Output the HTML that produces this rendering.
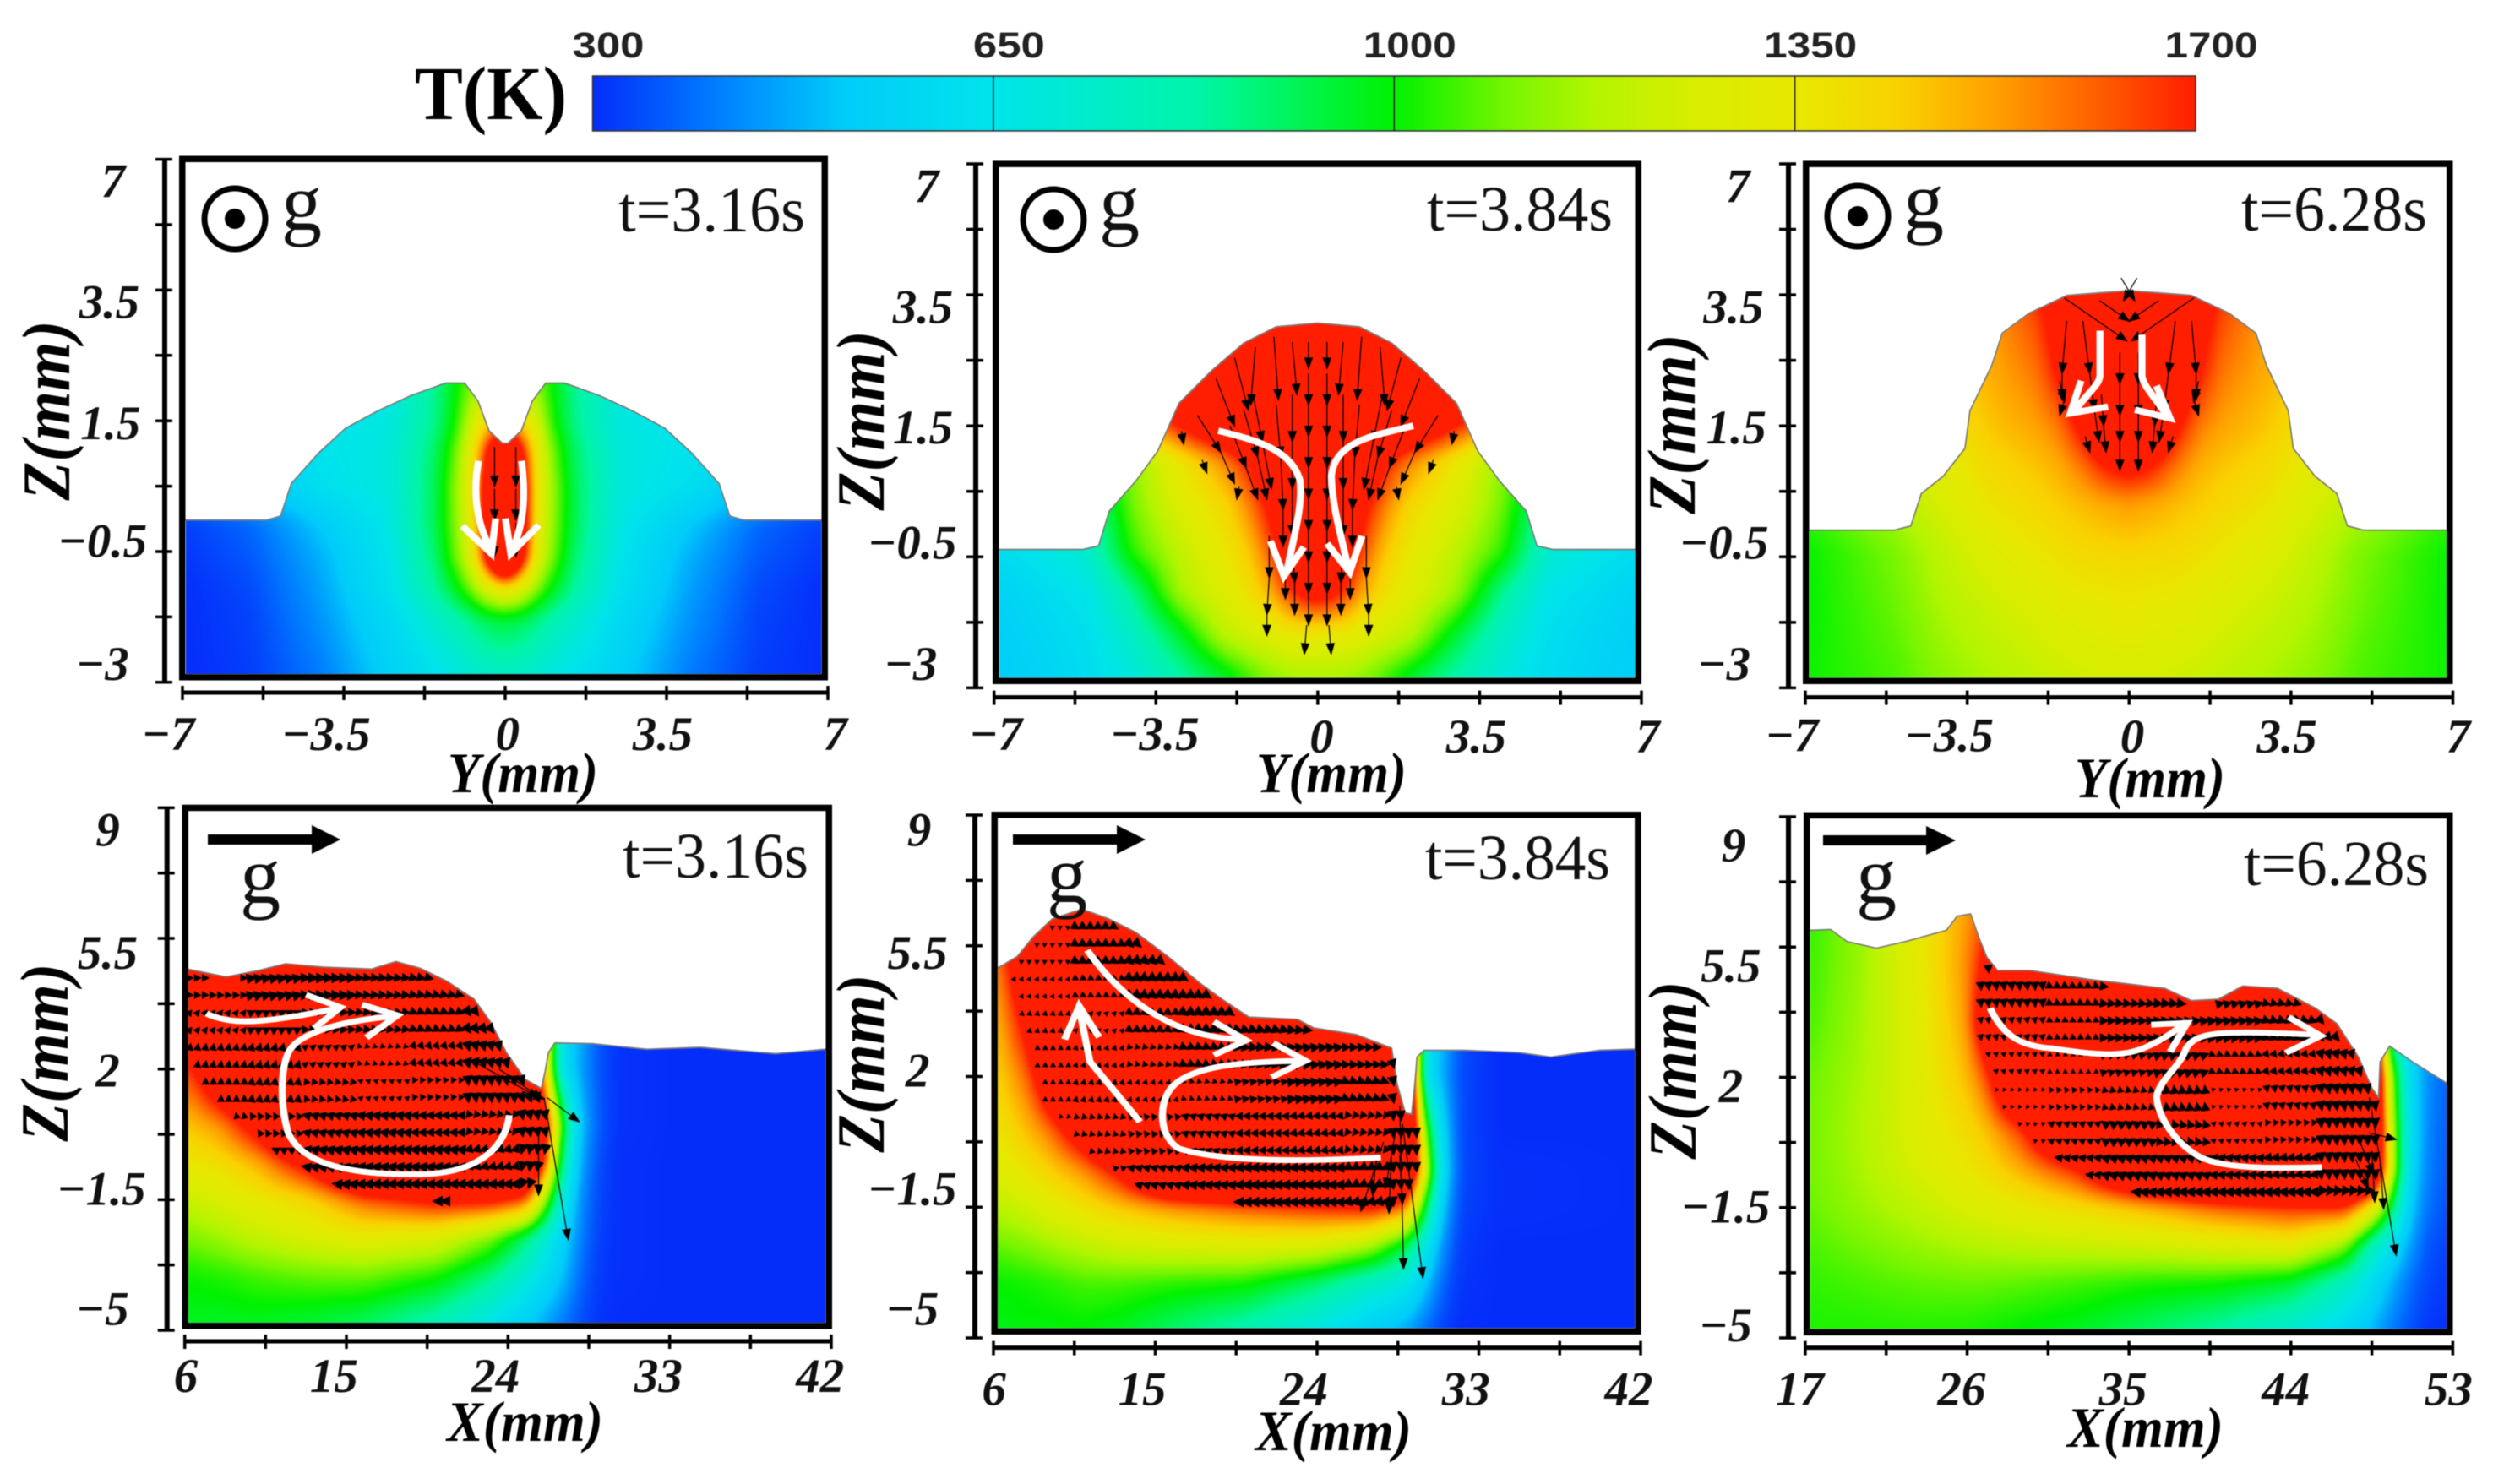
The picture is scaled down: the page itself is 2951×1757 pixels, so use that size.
<!DOCTYPE html>
<html lang="en">
<head>
<meta charset="utf-8">
<title>Melt pool temperature and flow fields</title>
<style>
html,body{margin:0;padding:0;background:#fff;width:2951px;height:1757px;overflow:hidden}
canvas,svg{position:absolute;left:0;top:0}
#fig{filter:blur(.5px)}
.serif{font-family:"Liberation Serif",serif}
.tick{font-family:"Liberation Serif",serif;font-weight:bold;font-style:italic;font-size:57px;fill:#111;text-anchor:middle}
.title{font-family:"Liberation Serif",serif;font-weight:bold;font-style:italic;fill:#000}
.time{font-family:"Liberation Serif",serif;font-size:76px;fill:#111}
.grav{font-family:"Liberation Serif",serif;font-size:96px;fill:#111}
.cb{font-family:"Liberation Sans",sans-serif;font-weight:bold;font-size:43px;fill:#222;text-anchor:middle}
</style>
</head>
<body>
<canvas id="heat" width="2951" height="1757"></canvas>
<svg id="fig" width="2951" height="1757" viewBox="0 0 2951 1757" xmlns="http://www.w3.org/2000/svg">
  <defs><linearGradient id="cbGrad" x1="0" x2="1" y1="0" y2="0"></linearGradient></defs>

  <g>
    <text class="serif" x="491" y="141" font-size="90" font-weight="bold" textLength="180" lengthAdjust="spacingAndGlyphs">T(K)</text>
    <rect id="cbRect" x="701.5" y="90" width="1897.5" height="65" fill="url(#cbGrad)" stroke="#333" stroke-width="1.5"></rect>
    <g id="cbTicks"></g>
  </g>

  <g id="flow"></g>

  <g>
    <text class="time" x="732" y="274" textLength="221" lengthAdjust="spacingAndGlyphs">t=3.16s</text>
    <text class="time" x="1689" y="273" textLength="220" lengthAdjust="spacingAndGlyphs">t=3.84s</text>
    <text class="time" x="2653" y="273" textLength="220" lengthAdjust="spacingAndGlyphs">t=6.28s</text>
    <text class="time" x="737" y="1039" textLength="220" lengthAdjust="spacingAndGlyphs">t=3.16s</text>
    <text class="time" x="1687" y="1041" textLength="219" lengthAdjust="spacingAndGlyphs">t=3.84s</text>
    <text class="time" x="2656" y="1048" textLength="219" lengthAdjust="spacingAndGlyphs">t=6.28s</text>

    <g>
      <circle cx="278" cy="259" r="36" fill="none" stroke="#000" stroke-width="7"></circle><circle cx="278" cy="259" r="12" fill="#000"></circle>
      <text class="grav" x="333" y="272">g</text>
    </g>
    <g>
      <circle cx="1247" cy="260" r="36" fill="none" stroke="#000" stroke-width="7"></circle><circle cx="1247" cy="260" r="12" fill="#000"></circle>
      <text class="grav" x="1301" y="272">g</text>
    </g>
    <g>
      <circle cx="2199" cy="256" r="36" fill="none" stroke="#000" stroke-width="7"></circle><circle cx="2199" cy="256" r="12" fill="#000"></circle>
      <text class="grav" x="2253" y="270">g</text>
    </g>

    <g>
      <path d="M246 988H369V977L403 994L369 1011V1000H246Z" fill="#000"></path>
      <text class="grav" x="284" y="1069">g</text>
    </g>
    <g>
      <path d="M1199 988H1322V977L1356 994L1322 1011V1000H1199Z" fill="#000"></path>
      <text class="grav" x="1239" y="1068">g</text>
    </g>
    <g>
      <path d="M2158 989H2280V978L2315 995L2280 1012V1001H2158Z" fill="#000"></path>
      <text class="grav" x="2197" y="1069">g</text>
    </g>
  </g>

  <g>
    <text class="title" x="530" y="938" font-size="68" textLength="178" lengthAdjust="spacingAndGlyphs">Y(mm)</text>
    <text class="title" x="1487" y="938" font-size="68" textLength="178" lengthAdjust="spacingAndGlyphs">Y(mm)</text>
    <text class="title" x="2456" y="944" font-size="68" textLength="178" lengthAdjust="spacingAndGlyphs">Y(mm)</text>
    <text class="title" x="529" y="1706" font-size="68" textLength="185" lengthAdjust="spacingAndGlyphs">X(mm)</text>
    <text class="title" x="1486" y="1717" font-size="68" textLength="185" lengthAdjust="spacingAndGlyphs">X(mm)</text>
    <text class="title" x="2447" y="1713" font-size="68" textLength="185" lengthAdjust="spacingAndGlyphs">X(mm)</text>
    <text class="title" font-size="80" text-anchor="middle" textLength="213" lengthAdjust="spacingAndGlyphs" transform="translate(82,486) rotate(-90)">Z(mm)</text>
    <text class="title" font-size="80" text-anchor="middle" textLength="213" lengthAdjust="spacingAndGlyphs" transform="translate(1046,498) rotate(-90)">Z(mm)</text>
    <text class="title" font-size="80" text-anchor="middle" textLength="213" lengthAdjust="spacingAndGlyphs" transform="translate(2006,502) rotate(-90)">Z(mm)</text>
    <text class="title" font-size="80" text-anchor="middle" textLength="211" lengthAdjust="spacingAndGlyphs" transform="translate(80,1246) rotate(-90)">Z(mm)</text>
    <text class="title" font-size="80" text-anchor="middle" textLength="211" lengthAdjust="spacingAndGlyphs" transform="translate(1046,1259) rotate(-90)">Z(mm)</text>
    <text class="title" font-size="80" text-anchor="middle" textLength="211" lengthAdjust="spacingAndGlyphs" transform="translate(2007,1267) rotate(-90)">Z(mm)</text>
  </g>

  <g fill="none" stroke="#fff" stroke-width="13" stroke-linecap="butt" stroke-linejoin="miter">
    <g transform="matrix(.6378,0,0,.5931,0,0)">
      <path d="M888 920C878 980 882 1040 912 1100M858 1050L912 1105L920 1035"></path>
      <path d="M968 920C975 980 975 1040 950 1100M1000 1048L948 1105L938 1035"></path>
    </g>
    <g transform="matrix(.6378,0,0,.5931,1000,0)">
      <path d="M693 860C770 880 830 900 845 960C850 1020 830 1080 820 1145M790 1080L815 1150L852 1092"></path>
      <path d="M1055 850C980 870 910 880 903 950C905 1020 925 1080 935 1140M895 1085L937 1142L960 1070"></path>
    </g>
    <g transform="matrix(.6378,0,0,.5931,1950,0)">
      <path d="M840 660L840 750C838 770 820 780 790 825M805 760L785 825L855 812"></path>
      <path d="M918 668L918 750C920 770 940 790 968 835M945 770L970 835L905 818"></path>
    </g>
    <g transform="matrix(.6378,0,0,.5274,0,930)">
      <path d="M383 512C440 545 520 525 630 500M568 470L632 498L583 545"></path>
      <path d="M945 740C940 800 900 870 780 873C650 875 560 850 535 780C520 720 520 640 535 600C550 560 620 530 730 518M672 492L738 516L680 566"></path>
    </g>
    <g transform="matrix(.6378,0,0,.5274,1000,930)">
      <path d="M548 755L455 620L435 500M408 570L435 495L472 565"></path>
      <path d="M450 370C520 490 620 570 745 570M685 530L745 572L685 605"></path>
      <path d="M995 835C850 845 700 845 620 815C585 790 580 720 605 680C640 630 730 620 855 618M795 578L855 618L792 655"></path>
    </g>
    <g transform="matrix(.6378,0,0,.5274,1950,930)">
      <path d="M636 500C660 560 690 585 750 590C830 605 880 610 920 590C960 570 980 550 1000 530M935 537L1002 533L970 598"></path>
      <path d="M1252 857C1150 860 1060 860 1020 830C980 800 950 750 945 700C950 660 990 630 1000 590C1020 550 1070 550 1250 560M1190 520L1250 562L1185 600"></path>
    </g>
  </g>

  <g id="axes"></g>
</svg>

<script>
/* ---------- colour scale ---------- */
const colorbarTemps=[300,400,520,650,825,900,1000,1100,1175,1260,1350,1440,1525,1620,1700];
const colorbarReds=[5,0,0,0,0,0,0,120,180,215,232,250,255,255,255];
const colorbarGreens=[45,120,205,228,245,245,242,245,245,238,232,210,160,90,30];
const colorbarBlues=[250,255,250,235,170,100,0,0,0,0,0,0,0,0,0];
const colorbarTickValues=[300,650,1000,1350,1700];

/* ---------- tick labels ---------- */
const crossZTicks=['7','3.5','1.5','\u22120.5','\u22123'];
const crossYTicks=['\u22127','\u22123.5','0','3.5','7'];
const longZTicks=['9','5.5','2','\u22121.5','\u22125'];
const longXTicksA=['6','15','24','33','42'];
const longXTicksB=['17','26','35','44','53'];

/* ---------- panel A, t=3.16 s, cross section (half profile, mirrored) ---------- */
const surfYA=[-7,-5.17,-4.87,-4.64,-4.05,-3.46,-2.76,-2.05,-1.29,-.88,-.59,-.35,-.06];
const surfZA=[.1,.1,.18,.8,1.38,1.86,2.19,2.48,2.72,2.72,2.38,1.81,1.57];
const fieldColsA=[0,.4,.7,1,1.5,2.5,4,5.5,7];
const fieldRowsA=[3,2,1.4,.7,0,-.6,-1.2,-1.8,-3];
const fieldA=[
[1150,1100,1050,1000,850,680,640,600,500],
[1500,1400,1250,1040,860,680,640,600,500],
[2200,1700,1350,1120,900,690,640,560,450],
[2600,1800,1360,1160,920,690,620,500,380],
[2600,1800,1340,1150,920,670,520,380,320],
[2400,1750,1300,1120,890,650,480,360,310],
[1400,1280,1120,1000,840,630,460,340,300],
[950,920,870,810,740,590,440,330,300],
[720,710,690,660,620,540,400,320,300]];
const arrowsA=[[.23,1.5,0,-.75],[.23,.7,0,-.6],[.23,.05,0,-.65]];

/* ---------- panel B, t=3.84 s, cross section ---------- */
const surfYB=[-7,-5.09,-4.74,-4.51,-3.93,-3.46,-3,-2.3,-1.6,-.9,0];
const surfZB=[-.36,-.36,-.29,.37,.95,1.52,2.43,3.05,3.58,3.89,3.96];
const fieldColsB=[0,.5,1,1.5,2,3,4,5,7];
const fieldRowsB=[4,3,2,1.3,.5,-.4,-1.2,-2,-3];
const fieldB=[
[2500,2500,2500,2500,2500,2400,2100,1800,1500],
[2500,2500,2500,2500,2400,2200,1950,1750,1500],
[2500,2500,2400,2150,1950,1710,1430,1200,1000],
[2300,2200,1950,1700,1560,1350,1120,950,800],
[2200,2000,1750,1560,1420,1290,1100,800,700],
[2100,1950,1630,1450,1350,1200,1040,720,600],
[1800,1700,1500,1380,1300,1150,850,650,550],
[1350,1350,1300,1250,1200,950,750,620,530],
[1120,1110,1080,1000,900,780,680,600,520]];
const arrowsB=[[.2,3.6,0,-.5],[.2,3,0,-.6],[.2,2.4,0,-.6],[.2,1.8,0,-.6],[.2,1.2,0,-.6],[.2,.6,0,-.6],[.2,0,0,-.6],[.2,-.6,0,-.6],[.2,-1.2,0,-.6],[.24,-1.8,.05,-.55],
[.55,3.6,-.1,-1],[.55,2.6,0,-.9],[.55,1.7,0,-.9],[.55,.8,0,-.9],[.55,-.1,-.05,-.9],[.5,-1,0,-.6],
[.95,3.7,-.1,-1.2],[.9,2.4,-.1,-1],[.8,1.4,-.05,-1],[.75,.4,0,-.7],
[1.35,3.5,.1,-1.1],[1.4,2.6,-.2,-.9],[1.2,1.7,-.2,-.9],
[1.8,3.3,-.3,-1],[1.6,2.3,-.3,-.9],[1.3,1.4,-.2,-.8],
[2.2,2.9,-.4,-.9],[1.9,2,-.35,-.8],[1.55,1.2,-.25,-.6],
[2.6,2.2,-.5,-.7],[2.1,1.5,-.3,-.6],[2.95,1.9,-.05,-.25],[2.5,1.35,-.1,-.25],[1.7,.85,.05,-.25],
[1.05,-.1,0,-.8],[1.05,-.9,.05,-.7],[1.1,-1.6,0,-.4],[.7,-.8,0,-.5]];

/* ---------- panel C, t=6.28 s, cross section ---------- */
const surfYC=[-7,-5.07,-4.72,-4.49,-4.02,-3.55,-3.44,-2.97,-2.74,-2.16,-1.34,0];
const surfZC=[.01,.01,.09,.71,1.04,1.57,2.29,3.15,3.77,4.15,4.49,4.58];
const fieldColsC=[0,.5,1,1.5,2,3,4,5,7];
const fieldRowsC=[5,4,3,2,1.2,.5,-.4,-1.5,-3];
const fieldC=[
[2200,2200,2100,1900,1700,1550,1450,1350,1250],
[2200,2200,2050,1800,1640,1520,1430,1330,1200],
[2200,2150,1950,1720,1580,1500,1420,1300,1150],
[2100,2000,1750,1580,1520,1460,1370,1270,1130],
[1760,1700,1580,1500,1460,1410,1320,1230,1100],
[1530,1510,1480,1450,1420,1370,1270,1180,1050],
[1430,1420,1410,1390,1360,1300,1210,1110,1000],
[1350,1340,1330,1310,1280,1230,1170,1090,1000],
[1250,1245,1230,1220,1200,1160,1120,1060,1010]];
const arrowsC=[[.2,3.4,0,-.6],[.2,2.8,0,-.6],[.2,2.2,0,-.5],[.2,1.7,0,-.55],
[1.4,4.44,-1.35,-.82],[.64,4.39,-.64,-.39],[.17,4.82,-.29,-.43],[1,4,-.15,-1],[.85,3,-.1,-.7],[.75,2.3,-.1,-.6],
[1.35,4,.1,-1],[1.45,3,0,-.5],[1.4,2.5,.1,-.3],[1.5,2.85,-.1,-.4],[.95,1.8,-.1,-.3],[.6,2.6,-.05,-.6],[.55,2,-.05,-.5]];

/* ---------- panel D, t=3.16 s, longitudinal section ---------- */
const surfXD=[6,6.21,8.31,10.11,11.61,13.71,16.41,17.76,19.11,20.61,22.11,23.01,23.91,24.96,25.86,26.07,26.25,26.61,28.71,31.71,34.71,38.91,41.76,42];
const surfZD=[4.67,4.67,4.47,4.64,4.82,4.73,4.68,4.88,4.7,4.35,3.87,3.27,2.44,1.72,1.48,1.96,2.44,2.7,2.68,2.53,2.58,2.41,2.53,2.53];
const fieldColsD=[6,8,10,13,16,20,23,25,26,27,28,29,30,33,42];
const fieldRowsD=[5,3.5,2,.5,-.5,-1.5,-2.5,-3.5,-5];
const fieldD=[
[2400,2400,2400,2400,2400,2400,2400,2300,1500,650,480,370,310,300,300],
[2000,2300,2400,2400,2400,2400,2400,2300,1500,650,480,370,310,300,300],
[1600,2000,2400,2400,2400,2400,2400,2300,1500,620,470,360,310,300,300],
[1450,1550,1800,2400,2400,2400,2400,2400,1900,1050,520,370,310,300,300],
[1350,1400,1500,1800,2300,2300,2300,2200,1750,900,480,350,305,300,300],
[1220,1280,1340,1430,1620,1750,1750,1650,1200,720,440,340,305,300,300],
[1100,1150,1210,1280,1330,1290,1120,900,740,580,420,330,305,300,300],
[1010,1030,1060,1090,1100,1030,880,720,620,520,390,320,305,300,300],
[960,950,950,920,870,750,620,510,450,390,340,310,300,300,300]];
const quiverColsD=[8,11,14,17,20,23,26];
const quiverRowsD=[4.4,3.5,2.5,1.5,.5,-.5,-1.5];
const quiverUD=[[.6,1,1,.8,.8,.7,.4],[.3,.6,.7,.7,.7,.6,.3],[.1,.2,.4,.3,.4,.3,.3],[0,.1,-.2,-.3,-.2,.1,.4],[-.1,-.3,-.8,-.9,-.8,-.4,.2],[-.2,-.6,-1,-1,-1,-.8,-.2],[-.5,-.8,-1,-1,-1,-1,-.4]];
const quiverVD=[[0,.2,0,-.1,-.2,-.5,-.7],[.4,.3,0,-.1,-.3,-.8,-1],[.6,.7,.3,-.1,-.5,-1,-1],[.6,.7,.5,.1,-.4,-1,-1],[.5,.5,.2,.1,0,-.5,-1],[.3,.3,.2,.1,.1,-.2,-1],[.2,.1,.1,0,0,0,-.9]];
const arrowsD=[[26,1.24,1.35,-3.81],[26.16,1.24,1.8,-.65],[25.7,.29,0,-1.67],[22.1,2.2,3.6,-.96],[23.5,2,2.4,-.8],[24.8,1.4,1.2,-.2]];

/* ---------- panel E, t=3.84 s, longitudinal section ---------- */
const surfXE=[6,6.27,7.32,8.22,9.27,10.92,12.41,13.91,15.71,17.51,18.71,20.21,22.91,23.81,26.2,28.15,28.45,28.9,29.26,29.44,29.56,29.95,32.2,35.2,37,39.7,41.7,42];
const surfZE=[4.91,4.91,5.21,5.74,6.22,6.48,6.22,5.86,5.21,4.49,4.07,3.59,3.53,3.3,3.12,2.76,1.8,1.03,.99,1.8,2.52,2.7,2.7,2.64,2.52,2.7,2.73,2.73];
const fieldColsE=[6,8,9,11,13,16,20,24,27,29,30,31,32,34,42];
const fieldRowsE=[6.5,5,3.5,2,.5,-.5,-1.5,-2.5,-3.5,-5];
const fieldE=[
[1500,2300,2500,2500,2500,2500,2500,2500,2500,2500,700,500,350,300,300],
[1480,2000,2400,2500,2500,2500,2500,2500,2500,2500,700,500,350,300,300],
[1440,1800,2200,2500,2500,2500,2500,2500,2500,2500,680,500,350,300,300],
[1400,1620,1900,2400,2500,2500,2500,2500,2500,2500,650,480,340,300,300],
[1340,1480,1560,1850,2300,2500,2500,2500,2500,2400,1150,560,340,300,300],
[1280,1380,1430,1550,1750,2300,2500,2500,2500,2200,1350,600,340,305,300],
[1180,1250,1300,1380,1460,1550,1620,1680,1720,1600,1000,520,330,305,300],
[1080,1120,1150,1200,1250,1280,1310,1290,1180,950,700,440,320,300,300],
[1000,1020,1030,1060,1060,1040,1020,900,760,680,540,380,310,300,300],
[970,980,980,980,950,860,750,620,500,430,360,320,300,300,300]];
const quiverColsE=[9,12,15,18,21,24,27,29];
const quiverRowsE=[5.5,4.5,3.5,2.5,1.5,.5,-.5,-1.5];
const quiverUE=[[.2,.7,.8,.8,.8,.8,.8,.8],[.1,.4,.8,.9,.9,.9,.8,.8],[.05,.2,.6,.9,.9,.9,.8,.5],[0,.1,.4,.7,.9,.9,.8,.3],[0,.1,.1,.3,.6,.9,.8,.2],[-.05,-.1,-.3,-.6,-.7,-.7,-.4,.1],[-.1,-.3,-.7,-.9,-1,-1,-.8,.1],[-.2,-.5,-.9,-1,-1,-1,-1,.1]];
const quiverVE=[[.1,-.4,-.7,-.5,-.3,-.1,-.1,-.2],[.2,-.2,-.6,-.6,-.4,-.2,-.2,-.5],[.3,.2,-.4,-.6,-.3,-.1,-.2,-.8],[.3,.3,-.1,-.3,-.1,.1,0,-.9],[.3,.4,.3,-.1,.1,.1,-.3,-1],[.2,.4,.4,.2,0,-.1,-.5,-1],[.1,.3,.2,.1,0,0,-.4,-1],[.1,.1,.1,0,0,0,-.2,-1]];
const arrowsE=[[28.6,1.21,.21,-4.36],[28.75,.73,1.14,-4.12],[27.7,.25,-1.26,-1.85],[28.15,.01,-.15,-1.67],[28.6,-.1,.15,-1.32],[27.3,-.1,-.2,-1.1],[28.4,.6,-.6,-1.6]];

/* ---------- panel F, t=6.28 s, longitudinal section ---------- */
const surfXF=[17,17.3,18.41,19.31,20.95,22.6,24.85,25.45,26.19,26.64,27.09,27.69,29.49,32.78,36.98,38.47,39.97,41.32,43.26,45.36,46.56,47.76,48.51,48.87,48.96,49.49,50.75,52.64,53];
const surfZF=[5.95,5.95,5.97,5.65,5.47,5.65,5.95,6.33,6.39,5.77,5.23,4.87,4.87,4.63,4.39,4.06,4.1,4.45,4.39,3.86,3.44,2.54,1.7,1.46,2.42,2.84,2.42,1.85,1.8];
const fieldColsF=[17,20,23,26,27,29,32,36,40,44,47,48.5,49.5,50.5,51.5,53];
const fieldRowsF=[6.5,5,3.5,2,.5,-.5,-1.5,-2.5,-3.5,-5];
const fieldF=[
[1030,1130,1330,1530,1600,2400,2400,2400,2400,2400,2400,2400,680,560,450,350],
[1040,1140,1300,1550,1750,2400,2400,2400,2400,2400,2400,2300,680,560,450,350],
[1050,1150,1290,1530,1900,2400,2400,2400,2400,2400,2400,2300,680,560,450,350],
[1080,1160,1280,1480,1620,2200,2400,2400,2400,2400,2400,2300,1200,620,440,350],
[1090,1170,1280,1400,1460,1650,2200,2400,2400,2400,2400,2300,1300,650,430,340],
[1090,1160,1260,1350,1390,1500,1680,2200,2400,2400,2400,2200,1350,620,420,340],
[1080,1140,1200,1280,1300,1340,1400,1500,1620,1680,1700,1400,1000,560,400,330],
[1060,1100,1140,1180,1190,1210,1230,1260,1300,1350,1150,800,650,480,360,320],
[1040,1060,1080,1090,1090,1080,1060,1030,1020,960,780,620,500,400,340,310],
[1020,1020,1020,1010,1000,980,950,880,790,680,560,470,400,350,310,300]];
const quiverColsF=[29,32,35,38,41,44,47];
const quiverRowsF=[4.4,3.5,2.5,1.5,.5,-.5,-1.5];
const quiverUF=[[.1,.6,.8,.9,.8,.7,.6],[.1,.4,.8,.9,.9,.8,.6],[.05,.2,.6,.8,.5,.4,.3],[-.05,-.2,-.1,-.1,-.1,.1,.2],[-.1,-.5,-.7,-.3,-.3,-.2,.1],[-.3,-.7,-.9,-.8,-.8,-.8,.1],[-.5,-.8,-1,-1,-1,-1,-.5]];
const quiverVF=[[-.8,-.3,-.1,-.1,.2,-.2,-.5],[-.5,-.2,0,.1,.1,-.3,-.7],[-.3,-.1,.2,.3,-.2,-.5,-.9],[.1,.3,.5,.8,.1,-.6,-1],[.1,.2,.5,.7,.1,-.4,-1],[0,.1,.3,.3,.1,-.1,-1],[0,0,.1,0,0,0,-.8]];
const arrowsF=[[48.36,1.46,1.49,-4.24],[48.36,.51,1.49,-.18],[48.5,.03,.16,-1.38],[48.96,-.33,.2,-1.2],[47.8,.3,.8,-.9],[47.6,-.2,.7,-.8]];

/* ---------- layout (not data) ---------- */
const layouts=[
{id:'a',mirror:1,L:212,R:980,T:184.5,B:805.5,ax0:216,ax1:980,ay0:188.6,ay1:807.8,bar:195,axisY:820,ox:0,sy:.5931,oy:0,xD:[-7,7],zD:[7,-3],surfX:surfYA,surfZ:surfZA,cols:fieldColsA,rows:fieldRowsA,f:fieldA,arrows:arrowsA,zt:crossZTicks,xt:crossYTicks,
 zl:[[210,362],[203,603],[205,845],[190,1080],[190,1325]],xl:[[312,1465],[605,1465],[942,1465],[1230,1465],[1550,1465]]},
{id:'b',mirror:1,L:1175,R:1943,T:190.4,B:810,ax0:1176.7,ax1:1943,ay0:194,ay1:814.4,bar:1155,axisY:825.6,ox:1000,sy:.5931,oy:0,xD:[-7,7],zD:[7,-3],surfX:surfYB,surfZ:surfZB,cols:fieldColsB,rows:fieldRowsB,f:fieldB,arrows:arrowsB,zt:crossZTicks,xt:crossYTicks,
 zl:[[152,372],[145,613],[145,853],[125,1083],[122,1325]],xl:[[280,1465],[575,1465],[885,1470],[1172,1470],[1490,1470]]},
{id:'c',mirror:1,L:2134,R:2903.5,T:190.4,B:810,ax0:2137,ax1:2903.5,ay0:194,ay1:814.4,bar:2117,axisY:825.6,ox:1950,sy:.5931,oy:0,xD:[-7,7],zD:[7,-3],surfX:surfYC,surfZ:surfZC,cols:fieldColsC,rows:fieldRowsC,f:fieldC,arrows:arrowsC,zt:crossZTicks,xt:crossYTicks,
 zl:[[168,372],[160,613],[165,853],[142,1083],[142,1325]],xl:[[268,1468],[560,1468],[900,1470],[1187,1470],[1505,1470]]},
{id:'d',mirror:0,L:215.5,R:985,T:952.7,B:1573.5,ax0:218.7,ax1:984,ay0:956.4,ay1:1575,bar:197.7,axisY:1588,ox:0,sy:.5274,oy:930,xD:[6,42],zD:[9,-5],surfX:surfXD,surfZ:surfZD,cols:fieldColsD,rows:fieldRowsD,f:fieldD,arrows:arrowsD,qc:quiverColsD,qr:quiverRowsD,qu:quiverUD,qv:quiverVD,zt:longZTicks,xt:longXTicksA,
 zl:[[200,100],[200,375],[200,640],[188,905],[190,1175]],xl:[[345,1325],[620,1325],[920,1325],[1222,1325],[1522,1325]]},
{id:'e',mirror:0,L:1173.5,R:1942.6,T:961,B:1580,ax0:1176,ax1:1942,ay0:965,ay1:1584,bar:1154,axisY:1595.6,ox:1000,sy:.5274,oy:930,xD:[6,42],zD:[9,-5],surfX:surfXE,surfZ:surfZE,cols:fieldColsE,rows:fieldRowsE,f:fieldE,arrows:arrowsE,qc:quiverColsE,qr:quiverRowsE,qu:quiverUE,qv:quiverVE,zt:longZTicks,xt:longXTicksA,
 zl:[[138,100],[135,375],[135,640],[125,905],[125,1175]],xl:[[277,1355],[552,1355],[852,1355],[1153,1355],[1455,1355]]},
{id:'f',mirror:0,L:2135,R:2903.5,T:961.6,B:1581,ax0:2136.9,ax1:2903.4,ay0:967,ay1:1584,bar:2117,axisY:1595.6,ox:1950,sy:.5274,oy:930,xD:[17,53],zD:[9,-5],surfX:surfXF,surfZ:surfZF,cols:fieldColsF,rows:fieldRowsF,f:fieldF,arrows:arrowsF,qc:quiverColsF,qr:quiverRowsF,qu:quiverUF,qv:quiverVF,zt:longZTicks,xt:longXTicksB,
 zl:[[160,135],[155,405],[155,675],[145,945],[145,1212]],xl:[[283,1355],[583,1355],[883,1355],[1185,1355],[1487,1355]]}
];

const NS='http://www.w3.org/2000/svg';
function colorAt(t){
  const n=colorbarTemps.length;
  if(t<=colorbarTemps[0])return [colorbarReds[0],colorbarGreens[0],colorbarBlues[0]];
  if(t>=colorbarTemps[n-1])return [colorbarReds[n-1],colorbarGreens[n-1],colorbarBlues[n-1]];
  let i=0;while(t>colorbarTemps[i+1])i++;
  const k=(t-colorbarTemps[i])/(colorbarTemps[i+1]-colorbarTemps[i]);
  return [colorbarReds[i]+k*(colorbarReds[i+1]-colorbarReds[i]),colorbarGreens[i]+k*(colorbarGreens[i+1]-colorbarGreens[i]),colorbarBlues[i]+k*(colorbarBlues[i+1]-colorbarBlues[i])];
}
function sampleField(p,x,z){
  const c=p.cols,r=p.rows,f=p.f;
  if(p.mirror)x=Math.abs(x);
  x=Math.max(c[0],Math.min(c[c.length-1],x));
  z=Math.min(r[0],Math.max(r[r.length-1],z));
  let i=0;while(i<c.length-2&&x>c[i+1])i++;
  let j=0;while(j<r.length-2&&z<r[j+1])j++;
  const a=(x-c[i])/(c[i+1]-c[i]),b=(z-r[j])/(r[j+1]-r[j]);
  return (1-b)*((1-a)*f[j][i]+a*f[j][i+1])+b*((1-a)*f[j+1][i]+a*f[j+1][i+1]);
}
function boxBlur(src,w,h,rad){
  const tmp=new Float32Array(src.length),d=2*rad+1;
  for(let y=0;y<h;y++){
    let s=0;
    for(let x=-rad;x<=rad;x++)s+=src[y*w+Math.max(0,Math.min(w-1,x))];
    for(let x=0;x<w;x++){
      tmp[y*w+x]=s/d;
      s+=src[y*w+Math.min(w-1,x+rad+1)]-src[y*w+Math.max(0,x-rad)];
    }
  }
  for(let x=0;x<w;x++){
    let s=0;
    for(let y=-rad;y<=rad;y++)s+=tmp[Math.max(0,Math.min(h-1,y))*w+x];
    for(let y=0;y<h;y++){
      src[y*w+x]=s/d;
      s+=tmp[Math.min(h-1,y+rad+1)*w+x]-tmp[Math.max(0,y-rad)*w+x];
    }
  }
}
function surfacePoints(p){
  const xs=[],zs=[];
  for(let i=0;i<p.surfX.length;i++){xs.push(p.surfX[i]);zs.push(p.surfZ[i]);}
  if(p.mirror){
    const last=p.surfX.length-1;
    for(let i=last-(p.surfX[last]===0?1:0);i>=0;i--){xs.push(-p.surfX[i]);zs.push(p.surfZ[i]);}
  }
  return {xs,zs};
}
function surfaceAt(pts,x){
  const a=pts.xs,b=pts.zs;
  if(x<=a[0])return b[0];
  for(let i=0;i<a.length-1;i++){
    if(x<=a[i+1]){return b[i]+(x-a[i])/(a[i+1]-a[i])*(b[i+1]-b[i]);}
  }
  return b[b.length-1];
}

const ctx=document.getElementById('heat').getContext('2d');
const flowRoot=document.getElementById('flow');
const axesRoot=document.getElementById('axes');

/* colour bar */
(function(){
  const grad=document.getElementById('cbGrad');
  colorbarTemps.forEach(function(t,i){
    const st=document.createElementNS(NS,'stop');
    st.setAttribute('offset',(t-300)/1400);
    st.setAttribute('stop-color','rgb('+colorbarReds[i]+','+colorbarGreens[i]+','+colorbarBlues[i]+')');
    grad.appendChild(st);
  });
  const holder=document.getElementById('cbTicks');
  colorbarTickValues.forEach(function(v){
    const px=701.5+(v-300)/1400*1897.5;
    const lab=document.createElementNS(NS,'text');
    lab.setAttribute('class','cb');
    lab.setAttribute('x',px+18.5);
    lab.setAttribute('y',68);
    lab.setAttribute('textLength',String(v).length>3?110:85);
    lab.setAttribute('lengthAdjust','spacingAndGlyphs');
    lab.textContent=v;
    
    
    holder.appendChild(lab);
    if(v>300&&v<1700){
      const ln=document.createElementNS(NS,'line');
      ln.setAttribute('x1',px);ln.setAttribute('x2',px);
      ln.setAttribute('y1',90);ln.setAttribute('y2',155);
      ln.setAttribute('stroke','#222');ln.setAttribute('stroke-width',1.5);
      
      
      holder.appendChild(ln);
    }
  });
})();

function drawArrow(group,x0,y0,x1,y1,len,wid,stem){
  const dx=x1-x0,dy=y1-y0,m=Math.hypot(dx,dy)||1,ux=dx/m,uy=dy/m;
  const bx=x1-ux*len,by=y1-uy*len,nx=-uy*wid/2,ny=ux*wid/2;
  let d='M'+(bx+nx).toFixed(1)+' '+(by+ny).toFixed(1)+'L'+x1.toFixed(1)+' '+y1.toFixed(1)+'L'+(bx-nx).toFixed(1)+' '+(by-ny).toFixed(1)+'Z';
  if(stem)d+='M'+x0.toFixed(1)+' '+y0.toFixed(1)+'L'+bx.toFixed(1)+' '+by.toFixed(1);
  const a=document.createElementNS(NS,'path');
  a.setAttribute('d',d);
  a.setAttribute('fill','#000');
  a.setAttribute('stroke','#000');
  a.setAttribute('stroke-width',stem?1.2:.5);
  
  
  group.appendChild(a);
}

layouts.forEach(function(p){
  const xS=function(v){return p.ax0+(v-p.xD[0])/(p.xD[1]-p.xD[0])*(p.ax1-p.ax0);};
  const zS=function(v){return p.ay0+(v-p.zD[0])/(p.zD[1]-p.zD[0])*(p.ay1-p.ay0);};
  const xInv=function(px){return p.xD[0]+(px-p.ax0)/(p.ax1-p.ax0)*(p.xD[1]-p.xD[0]);};
  const zInv=function(py){return p.zD[0]+(py-p.ay0)/(p.ay1-p.ay0)*(p.zD[1]-p.zD[0]);};
  const ix0=p.L+7.5,ix1=p.R-7.5,iy0=p.T+7.5,iy1=p.B-7.5;
  const pts=surfacePoints(p);

  /* temperature field */
  const step=2,W=Math.ceil((ix1-ix0)/step),H=Math.ceil((iy1-iy0)/step);
  const T=new Float32Array(W*H);
  for(let y=0;y<H;y++){
    for(let x=0;x<W;x++){
      T[y*W+x]=sampleField(p,xInv(ix0+(x+.5)*step),zInv(iy0+(y+.5)*step));
    }
  }
  boxBlur(T,W,H,4);boxBlur(T,W,H,3);boxBlur(T,W,H,2);
  const off=document.createElement('canvas');off.width=W;off.height=H;
  const oc=off.getContext('2d');const im=oc.createImageData(W,H);
  for(let i=0;i<W*H;i++){
    const c=colorAt(T[i]);
    im.data[i*4]=c[0];im.data[i*4+1]=c[1];im.data[i*4+2]=c[2];im.data[i*4+3]=255;
  }
  oc.putImageData(im,0,0);
  ctx.save();
  ctx.beginPath();
  ctx.moveTo(ix0,iy1);
  pts.xs.forEach(function(v,i){ctx.lineTo(Math.max(ix0,Math.min(ix1,xS(v))),zS(pts.zs[i]));});
  ctx.lineTo(ix1,iy1);
  ctx.closePath();
  ctx.clip();
  ctx.imageSmoothingEnabled=true;
  ctx.drawImage(off,ix0,iy0,ix1-ix0,iy1-iy0);
  ctx.restore();

  const g=document.createElementNS(NS,'g');
  
  
  flowRoot.appendChild(g);

  /* free-surface outline */
  const sp=document.createElementNS(NS,'polyline');
  sp.setAttribute('points',pts.xs.map(function(v,i){return Math.max(ix0,Math.min(ix1,xS(v))).toFixed(1)+','+zS(pts.zs[i]).toFixed(1);}).join(' '));
  sp.setAttribute('fill','none');
  sp.setAttribute('stroke','#777');
  sp.setAttribute('stroke-width',1.6);
  
  
  g.appendChild(sp);

  /* dense velocity lattice (longitudinal sections) */
  if(p.qc){
    const dxMm=.43,dzMm=.46;
    for(let z=p.qr[0]+.5;z>p.qr[p.qr.length-1]-1;z-=dzMm){
      for(let x=p.xD[0]+.3;x<p.xD[1];x+=dxMm){
        if(z>surfaceAt(pts,x)-.12)continue;
        if(sampleField(p,x,z)<1730)continue;
        let ci=0;p.qc.forEach(function(v,i){if(Math.abs(v-x)<Math.abs(p.qc[ci]-x))ci=i;});
        let ri=0;p.qr.forEach(function(v,i){if(Math.abs(v-z)<Math.abs(p.qr[ri]-z))ri=i;});
        const u=p.qu[ri][ci],v=p.qv[ri][ci],m=Math.hypot(u,v);
        const len=3+9*Math.min(1,m),wid=4+8*Math.min(1,m);
        const cx=xS(x),cy=zS(z),nm=m||1;
        drawArrow(g,cx-u/nm*len/2,cy+v/nm*len/2,cx+u/nm*len/2,cy-v/nm*len/2,len,wid,false);
      }
    }
  }

  /* individually read long arrows */
  p.arrows.forEach(function(a){
    drawArrow(g,xS(a[0]),zS(a[1]),xS(a[0]+a[2]),zS(a[1]+a[3]),12,9,true);
    if(p.mirror){
      drawArrow(g,xS(-a[0]),zS(a[1]),xS(-a[0]-a[2]),zS(a[1]+a[3]),12,9,true);
    }
  });

  /* frame */
  const fr=document.createElementNS(NS,'rect');
  fr.setAttribute('x',p.L+3.75);fr.setAttribute('y',p.T+3.75);
  fr.setAttribute('width',p.R-p.L-7.5);fr.setAttribute('height',p.B-p.T-7.5);
  fr.setAttribute('fill','none');fr.setAttribute('stroke','#000');fr.setAttribute('stroke-width',7.5);
  
  
  axesRoot.appendChild(fr);

  /* axes */
  const yBar=document.createElementNS(NS,'line');
  yBar.setAttribute('x1',p.bar);yBar.setAttribute('x2',p.bar);
  yBar.setAttribute('y1',p.ay0);yBar.setAttribute('y2',p.ay1);
  yBar.setAttribute('stroke','#000');yBar.setAttribute('stroke-width',6);
  
  
  axesRoot.appendChild(yBar);
  const xBar=document.createElementNS(NS,'line');
  xBar.setAttribute('x1',p.ax0);xBar.setAttribute('x2',p.ax1);
  xBar.setAttribute('y1',p.axisY);xBar.setAttribute('y2',p.axisY);
  xBar.setAttribute('stroke','#000');xBar.setAttribute('stroke-width',5);
  
  
  axesRoot.appendChild(xBar);
  for(let i=0;i<=8;i++){
    const ty=p.ay0+i/8*(p.ay1-p.ay0);
    const t1=document.createElementNS(NS,'line');
    t1.setAttribute('x1',p.bar-11);t1.setAttribute('x2',p.bar+9);
    t1.setAttribute('y1',ty);t1.setAttribute('y2',ty);
    t1.setAttribute('stroke','#000');t1.setAttribute('stroke-width',3.5);
    
    
    axesRoot.appendChild(t1);
    const tx=p.ax0+i/8*(p.ax1-p.ax0);
    const t2=document.createElementNS(NS,'line');
    t2.setAttribute('x1',tx);t2.setAttribute('x2',tx);
    t2.setAttribute('y1',p.axisY-8);t2.setAttribute('y2',p.axisY+9);
    t2.setAttribute('stroke','#000');t2.setAttribute('stroke-width',3.5);
    
    
    axesRoot.appendChild(t2);
  }
  p.zt.forEach(function(s,i){
    const t=document.createElementNS(NS,'text');
    t.setAttribute('class','tick');
    t.setAttribute('x',p.ox+p.zl[i][0]*.6378);
    t.setAttribute('y',p.oy+p.zl[i][1]*p.sy+19);
    t.textContent=s;
    
    
    axesRoot.appendChild(t);
  });
  p.xt.forEach(function(s,i){
    const t=document.createElementNS(NS,'text');
    t.setAttribute('class','tick');
    t.setAttribute('x',p.ox+p.xl[i][0]*.6378);
    t.setAttribute('y',p.oy+p.xl[i][1]*p.sy+19);
    t.textContent=s;
    
    
    axesRoot.appendChild(t);
  });
});
</script>
</body>
</html>
